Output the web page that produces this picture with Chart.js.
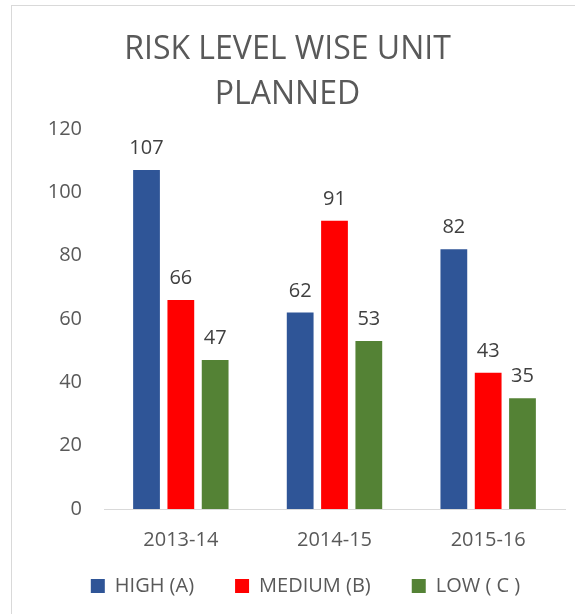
<!DOCTYPE html>
<html lang="en">

<head>
    <meta charset="UTF-8">
    <title>Risk level wise unit planned</title>
    <style>
        body { margin: 0; background: #fff; }
        #frame {
            position: absolute; left: 11px; top: 5px;
            width: 700px; height: 700px;
            border: 1px solid #d9d9d9;
        }
        #wrap { position: absolute; left: 0; top: 0; width: 575px; height: 614px; }
    </style>
</head>

<body>
    <div id="frame"></div>
    <div id="wrap"><canvas id="myChart"></canvas></div>

    <script src="https://cdn.jsdelivr.net/npm/chart.js@4/dist/chart.umd.min.js"></script>
    <script>
        var years = ['2013-14', '2014-15', '2015-16'];
        var high = [107, 62, 82];
        var medium = [66, 91, 43];
        var low = [47, 53, 35];
        var yTicks = [0, 20, 40, 60, 80, 100, 120];

        var fontName = "'Open Sans', sans-serif";
        var grey = '#595959';

        // little plugin to put the numbers on top of the bars
        var valueLabels = {
            id: 'valueLabels',
            afterLayout: function (chart) {
                // the title is centred on the whole frame, not on the padded area
                if (chart.titleBlock) chart.titleBlock.left = 10;
                // legend has a big top padding (it also sets the item spacing), pull it up
                if (chart.legend) {
                    chart.legend.top = 535;
                    chart.legend.bottom = 614;
                }
            },
            afterDatasetsDraw: function (chart) {
                var ctx = chart.ctx;
                ctx.save();
                ctx.font = '20px ' + fontName;
                ctx.fillStyle = '#404040';
                ctx.textAlign = 'center';
                ctx.textBaseline = 'alphabetic';
                chart.data.datasets.forEach(function (ds, i) {
                    chart.getDatasetMeta(i).data.forEach(function (bar, j) {
                        ctx.fillText(ds.data[j], bar.x, bar.y - 16);
                    });
                });
                ctx.restore();
            }
        };

        var config = {
            type: 'bar',
            data: {
                labels: years,
                datasets: [
                    { label: 'HIGH (A)', data: high, backgroundColor: '#2f5597' },
                    { label: 'MEDIUM (B)', data: medium, backgroundColor: '#ff0000' },
                    { label: 'LOW ( C )', data: low, backgroundColor: '#548235' }
                ]
            },
            options: {
                responsive: false,
                animation: false,
                categoryPercentage: 0.67,
                barPercentage: 0.78,
                layout: { padding: { left: 46, right: 10, top: 0, bottom: 3 } },
                plugins: {
                    title: {
                        display: true,
                        text: ['RISK LEVEL WISE UNIT', 'PLANNED'],
                        color: grey,
                        font: { family: fontName, size: 32, weight: 'normal', lineHeight: 1.42 },
                        padding: { top: 27, bottom: 11 }
                    },
                    legend: {
                        position: 'bottom',
                        maxHeight: 40,
                        labels: {
                            color: grey,
                            boxWidth: 14,
                            boxHeight: 14,
                            padding: 41,
                            font: { family: fontName, size: 20 }
                        }
                    },
                    tooltip: { enabled: false }
                },
                scales: {
                    x: {
                        grid: { display: false, drawTicks: false },
                        border: { color: '#d9d9d9', width: 1 },
                        ticks: { color: grey, padding: 19, font: { family: fontName, size: 20 } }
                    },
                    y: {
                        min: 0,
                        max: 120,
                        afterBuildTicks: function (axis) {
                            axis.ticks = yTicks.map(function (v) { return { value: v }; });
                        },
                        afterFit: function (axis) { axis.width = 58; },
                        grid: { display: false, drawTicks: false },
                        border: { display: false },
                        ticks: { color: grey, padding: 22, font: { family: fontName, size: 20 } }
                    }
                }
            },
            plugins: [valueLabels]
        };

        var canvas = document.getElementById('myChart');
        canvas.width = 575;
        canvas.height = 614;
        var chart = new Chart(canvas.getContext('2d'), config);
    </script>
</body>

</html>
